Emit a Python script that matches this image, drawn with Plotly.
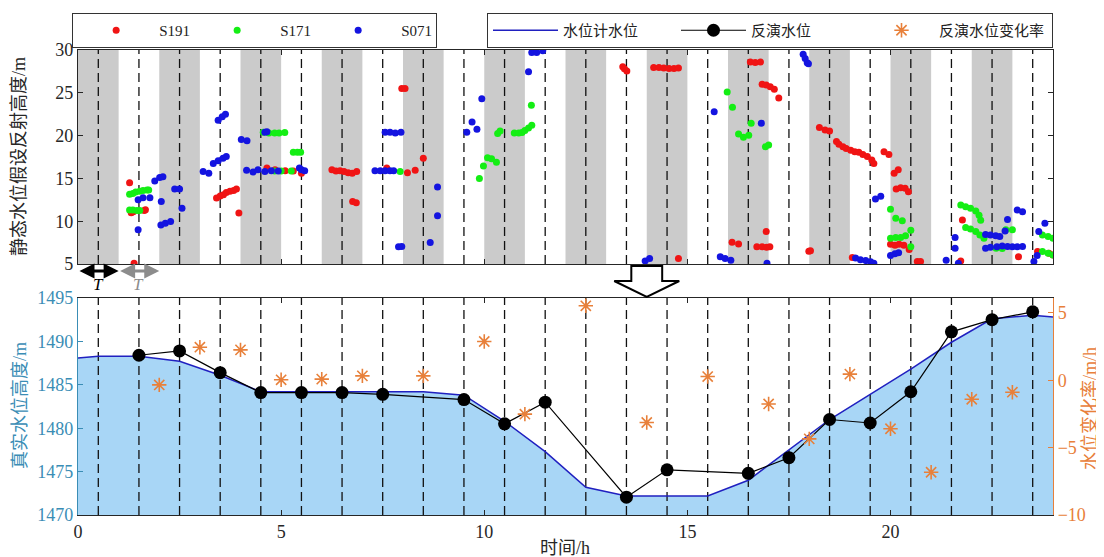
import numpy as np
import plotly.graph_objects as go

# ---------------- data: top panel (static reflector height, m) ----------------
s191_t = [1.27, 1.31, 1.36, 1.38, 1.63, 1.66,
          3.41, 3.50, 3.58, 3.65, 3.74, 3.83, 3.90, 3.96,
          4.65, 4.85, 5.10, 5.30, 5.50,
          6.25, 6.35, 6.45, 6.55, 6.65, 6.75, 6.86, 6.76, 6.85,
          7.60, 7.97, 8.05, 8.11, 8.30, 8.50,
          13.41, 13.45, 13.51, 14.17, 14.30, 14.42, 14.55, 14.67, 14.78, 14.78,
          16.10, 16.26, 16.55, 16.67, 16.80,
          16.84, 16.94, 17.04, 17.14, 17.25,
          16.71, 16.84, 16.94, 16.95, 17.03, 17.99, 18.03,
          18.25, 18.39, 18.50,
          18.67, 18.73, 18.83, 18.91, 19.02, 19.12, 19.22, 19.32, 19.43, 19.54, 19.59,
          19.06, 19.84, 19.96, 20.09, 20.19,
          20.14, 20.25, 20.36, 20.44,
          20.00, 20.11, 20.21, 20.33, 20.46, 20.66, 20.74,
          21.73, 21.77, 23.15, 23.62, 23.90, 24.00]
s191_h = [14.5, 11.0, 11.1, 5.1, 11.25, 11.35,
          12.7, 12.95, 13.1, 13.35, 13.5, 13.6, 13.75, 10.95,
          16.2, 16.0, 15.9, 15.85, 15.6,
          16.0, 15.85, 15.9, 15.8, 15.65, 15.6, 15.8, 12.3, 12.15,
          16.2, 25.5, 25.5, 15.65, 15.95, 17.35,
          28.05, 27.8, 27.55, 27.95, 27.95, 27.9, 27.85, 27.85, 27.9, 5.65,
          7.55, 7.35, 28.6, 28.55, 28.6,
          26.0, 25.9, 25.7, 25.4, 24.4,
          7.0, 7.0, 8.8, 6.95, 7.0, 6.5, 6.55,
          20.95, 20.65, 20.55,
          19.3, 19.0, 18.7, 18.5, 18.3, 18.1, 18.05, 17.8, 17.55, 17.15, 16.75,
          5.75, 18.1, 17.8, 15.6, 16.0,
          13.75, 13.9, 13.85, 13.45,
          7.3, 7.2, 7.3, 7.2, 6.7, 5.3, 5.3,
          5.35, 10.15, 5.85, 6.45, 6.25, 6.05]

s171_t = [1.27, 1.35, 1.42, 1.52, 1.60, 1.70, 1.74,
          1.27, 1.35, 1.45, 1.52,
          4.56, 4.70, 4.84, 4.95, 5.09, 5.30, 5.40, 5.48,
          4.84, 5.00, 5.25, 7.93,
          9.88, 9.98, 10.08, 10.18, 10.30, 10.33, 10.39,
          10.74, 10.85, 10.93, 11.00, 11.09, 11.17, 11.16,
          15.98, 16.11, 16.26, 16.38, 16.51, 16.57, 16.92, 17.00,
          20.00, 20.13, 20.29,
          20.00, 20.13, 20.25, 20.37, 20.50, 20.50,
          21.73, 21.85, 21.97, 22.10, 22.18, 22.22,
          21.85, 21.97, 22.10, 22.20, 22.30,
          22.84, 23.00, 22.60, 22.75,
          23.74, 23.88, 24.00, 23.74, 23.88, 24.00]
s171_h = [13.15, 13.25, 13.4, 13.5, 13.6, 13.65, 13.65,
          11.3, 11.3, 11.25, 11.25,
          20.4, 20.3, 20.3, 20.3, 20.35, 18.05, 18.05, 18.05,
          15.85, 15.85, 15.85, 15.8,
          15.0, 16.45, 17.4, 17.3, 16.9, 20.25, 20.55,
          20.3, 20.3, 20.35, 20.6, 20.9, 21.2, 23.55,
          25.1, 23.3, 20.2, 19.8, 20.05, 21.45, 18.7, 18.9,
          11.4, 10.35, 10.05,
          8.0, 8.1, 8.1, 8.3, 8.95, 7.0,
          11.9, 11.7, 11.5, 11.2, 10.7, 10.1,
          9.25, 9.1, 8.8, 8.4, 8.0,
          9.0, 9.0, 6.85, 6.8,
          8.4, 8.2, 8.0, 6.45, 6.25, 6.05]

s071_t = [1.48, 1.48, 1.60, 1.77, 1.89, 2.01, 2.09, 2.05,
          2.04, 2.15, 2.28, 2.38, 2.50, 2.56,
          3.08, 3.22, 3.33, 3.45, 3.57, 3.65, 3.45, 3.55, 3.63,
          4.02, 4.16, 4.15, 4.31, 4.43, 4.60, 4.76, 4.93, 4.60, 4.65,
          5.45, 5.50, 5.58,
          7.31, 7.44, 7.56, 7.68, 7.77, 7.56, 7.68, 7.81, 7.95,
          7.89, 7.97, 8.67, 8.85, 8.85,
          9.57, 9.70, 9.82, 9.94, 11.09, 11.17, 11.29, 11.44,
          13.96, 14.07, 15.66, 15.81, 15.93, 16.07, 16.82, 16.96,
          17.85, 17.90, 17.95, 17.98,
          19.14, 19.26, 19.39, 19.51, 19.59, 19.63, 19.76,
          20.00, 20.11, 20.20,
          21.37, 21.59, 21.59, 21.67,
          22.34, 22.46, 22.59, 22.69, 22.82, 22.88, 23.12, 23.25,
          22.34, 22.46, 22.62, 22.75, 22.88, 23.00, 23.12, 23.25,
          23.53, 23.61, 23.65, 23.80]
s071_h = [9.0, 12.5, 12.75, 12.75, 14.7, 15.1, 15.2, 12.3,
          9.55, 9.75, 9.95, 13.75, 13.75, 11.5,
          15.8, 15.6, 16.75, 17.05, 17.35, 17.55, 21.8, 22.2, 22.5,
          19.55, 19.4, 15.95, 15.75, 16.0, 15.8, 15.9, 15.85, 20.4, 20.45,
          16.2, 16.0, 15.9,
          15.9, 15.9, 15.9, 15.9, 15.9, 20.4, 20.4, 20.3, 20.4,
          7.0, 7.05, 7.5, 14.0, 10.65,
          20.4, 21.6, 20.75, 24.3, 27.45, 29.7, 29.7, 29.9,
          5.35, 5.65, 22.8, 5.85, 5.65, 5.45, 21.45, 5.1,
          29.5, 29.0, 28.5, 28.4,
          5.7, 5.5, 5.4, 5.25, 5.1, 12.6, 12.9,
          6.0, 6.2, 6.3,
          5.45, 8.1, 6.85, 5.1,
          8.45, 8.4, 8.3, 8.2, 8.85, 10.2, 11.3, 11.1,
          6.85, 6.95, 7.0, 7.1, 7.05, 7.0, 7.0, 7.05,
          5.3, 6.0, 8.8, 9.75]

# ---------------- data: bottom panel ----------------
gauge_t = [0, 0.5, 1.5, 2.5, 3.5, 4.5, 5.5, 6.5, 7.5, 8.5, 9.5, 10.5, 11.5, 12.5,
           13.5, 14.5, 15.5, 16.5, 17.5, 18.5, 19.5, 20.5, 21.5, 22.5, 23.5, 24]
gauge_h = [1488.1, 1488.3, 1488.3, 1487.7, 1486.1, 1484.2, 1484.2, 1484.2, 1484.2,
           1484.2, 1483.8, 1480.8, 1477.3, 1473.2, 1472.2, 1472.2, 1472.2, 1474.0,
           1477.5, 1481.0, 1483.9, 1486.8, 1489.9, 1492.6, 1493.0, 1492.8]

inv_t = [1.5, 2.5, 3.5, 4.5, 5.5, 6.5, 7.5, 9.5, 10.5, 11.5, 13.5, 14.5,
         16.5, 17.5, 18.5, 19.5, 20.5, 21.5, 22.5, 23.5]
inv_h = [1488.4, 1488.9, 1486.4, 1484.1, 1484.1, 1484.1, 1483.9, 1483.3, 1480.5,
         1483.0, 1472.05, 1475.2, 1474.8, 1476.6, 1481.0, 1480.6, 1484.2, 1491.1,
         1492.5, 1493.4]

rate_t = [2, 3, 4, 5, 6, 7, 8.5, 10, 11, 12.5, 14, 15.5, 17, 18, 19, 20, 21, 22, 23]
rate_v = [-0.35, 2.45, 2.25, 0.03, 0.08, 0.32, 0.32, 2.87, -2.52, 5.52, -3.14,
          0.27, -1.76, -4.35, 0.45, -3.6, -6.83, -1.41, -0.89]

x_ticks = [0, 5, 10, 15, 20]
top_y_ticks = [5, 10, 15, 20, 25, 30]
left_y_ticks = [1470, 1475, 1480, 1485, 1490, 1495]
right_y_ticks = [-10, -5, 0, 5]

# ---------------- styling ----------------
FONT = "Liberation Serif, 'Noto Sans CJK SC', serif"
AX = "#262626"
TEAL = "#3a8db5"
ORANGE = "#e8803a"
RED, GREEN, BLUE = "#f01414", "#14ee14", "#1414e0"
GRAY = "#cbcbcb"

fig = go.Figure()

# dashed half-hour guide lines
half = np.arange(0.5, 24, 1.0)
dx, dy_top, dy_bot = [], [], []
for h in half:
    dx += [h, h, None]
    dy_top += [5, 30, None]
    dy_bot += [1470, 1495, None]
fig.add_trace(go.Scatter(x=dx, y=dy_top, mode="lines", xaxis="x", yaxis="y",
                         line=dict(color="#111111", width=1.3, dash="9px,5px"),
                         showlegend=False, hoverinfo="skip"))

for name, t, h, c in [("S191", s191_t, s191_h, RED), ("S171", s171_t, s171_h, GREEN),
                      ("S071", s071_t, s071_h, BLUE)]:
    fig.add_trace(go.Scatter(x=t, y=h, mode="markers", name=name, xaxis="x", yaxis="y",
                             marker=dict(color=c, size=7), legend="legend"))

# bottom panel: filled area under the gauge level, then the gauge line itself
fig.add_trace(go.Scatter(x=gauge_t, y=gauge_h, mode="lines", xaxis="x2", yaxis="y2",
                         fill="tozeroy", fillcolor="#a8d6f6", line=dict(width=0),
                         showlegend=False, hoverinfo="skip"))
fig.add_trace(go.Scatter(x=dx, y=dy_bot, mode="lines", xaxis="x2", yaxis="y2",
                         line=dict(color="#111111", width=1.3, dash="9px,5px"),
                         showlegend=False, hoverinfo="skip"))
fig.add_trace(go.Scatter(x=gauge_t, y=gauge_h, mode="lines", name="水位计水位",
                         xaxis="x2", yaxis="y2",
                         line=dict(color="#2020c0", width=1.5), legend="legend2"))
fig.add_trace(go.Scatter(x=inv_t, y=inv_h, mode="lines+markers", name="反演水位",
                         xaxis="x2", yaxis="y2",
                         line=dict(color="black", width=1.2),
                         marker=dict(color="black", size=13), legend="legend2"))
fig.add_trace(go.Scatter(x=rate_t, y=rate_v, mode="markers", name="反演水位变化率",
                         xaxis="x2", yaxis="y3",
                         marker=dict(symbol="asterisk-open", size=12, color=ORANGE,
                                     line=dict(color=ORANGE, width=1.6)),
                         legend="legend2"))

# gray alternating bands in the top panel
shapes = []
for k in range(12):
    shapes.append(dict(type="rect", xref="x", yref="y domain", x0=2 * k, x1=2 * k + 1,
                       y0=0, y1=1, fillcolor=GRAY, line=dict(width=0), layer="below"))

# window-pixel -> paper y (plot area spans window y 50..515)
def py(p):
    return (515 - p) / 465.0

# hollow down arrow between panels
shapes.append(dict(type="path", xref="x", yref="paper",
                   path=f"M 13.62,{py(266)} L 14.38,{py(266)} L 14.38,{py(281)} L 14.8,{py(281)} "
                        f"L 14.0,{py(297)} L 13.2,{py(281)} L 13.62,{py(281)} Z",
                   fillcolor="white", line=dict(color="black", width=2), layer="above"))

def ann_text(text, x, y, color, angle=0, size=18):
    return dict(text=text, xref="paper", yref="paper", x=x, y=y, textangle=angle,
                xanchor="center", yanchor="middle", showarrow=False,
                font=dict(size=size, color=color, family=FONT))

annotations = [
    ann_text("静态水位假设反射高度/m", (19 - 78) / 975, py(157), AX, -90),
    ann_text("真实水位高度/m", (20 - 78) / 975, py(406), TEAL, -90),
    ann_text("水位变化率/m/h", (1090 - 78) / 975, py(409), ORANGE, -90),
    ann_text("时间/h", (565 - 78) / 975, py(548), AX),
    # period arrows
    dict(x=1, y=py(271), xref="x", yref="paper", ax=-40.6, ay=0, axref="pixel", ayref="pixel",
         text="", showarrow=True, arrowhead=2, arrowside="end+start", arrowsize=1,
         arrowwidth=3, arrowcolor="black"),
    dict(x=2, y=py(271), xref="x", yref="paper", ax=-40.6, ay=0, axref="pixel", ayref="pixel",
         text="", showarrow=True, arrowhead=2, arrowside="end+start", arrowsize=1,
         arrowwidth=3, arrowcolor="#8c8c8c"),
    dict(text="<i>T</i>", x=0.5, y=py(284), xref="x", yref="paper", showarrow=False,
         xanchor="center", yanchor="middle",
         font=dict(size=17, color="black", family=FONT)),
    dict(text="<i>T</i>", x=1.5, y=py(284), xref="x", yref="paper", showarrow=False,
         xanchor="center", yanchor="middle",
         font=dict(size=17, color="#8c8c8c", family=FONT)),
]

tickfont = dict(size=18, family=FONT, color=AX)
# the page body adds an 8px offset, so the figure is 8px smaller and margins shifted
fig.update_layout(
    width=1096, height=549,
    margin=dict(l=70, r=51, t=42, b=42, autoexpand=False),
    paper_bgcolor="white", plot_bgcolor="white",
    font=dict(family=FONT, size=16, color=AX),
    shapes=shapes, annotations=annotations,
    xaxis=dict(domain=[0, 1], anchor="y", range=[0, 24], tickvals=x_ticks,
               showticklabels=False, ticks="inside", ticklen=5, tickcolor=AX,
               showline=True, linecolor=AX, linewidth=1.2, mirror="ticks",
               showgrid=False, zeroline=False),
    yaxis=dict(domain=[0.5398, 1.0], anchor="x", range=[5, 30], tickvals=top_y_ticks,
               ticks="inside", ticklen=5, tickcolor=AX, tickfont=tickfont,
               showline=True, linecolor=AX, linewidth=1.2, mirror="ticks",
               showgrid=False, zeroline=False),
    xaxis2=dict(domain=[0, 1], anchor="y2", range=[0, 24], tickvals=x_ticks,
                ticks="inside", ticklen=5, tickcolor=AX, tickfont=tickfont,
                showline=True, linecolor=AX, linewidth=1.2, mirror="ticks",
                showgrid=False, zeroline=False),
    yaxis2=dict(domain=[0, 0.4667], anchor="x2", range=[1470, 1495], tickvals=left_y_ticks,
                ticks="inside", ticklen=5, tickcolor=TEAL,
                tickfont=dict(size=18, family=FONT, color=TEAL),
                showline=True, linecolor=TEAL, linewidth=1.2, mirror=False,
                showgrid=False, zeroline=False),
    yaxis3=dict(overlaying="y2", side="right", anchor="x2", range=[-10, 6.1],
                tickvals=right_y_ticks, ticks="inside", ticklen=5, tickcolor=ORANGE,
                tickfont=dict(size=18, family=FONT, color=ORANGE),
                showline=True, linecolor=ORANGE, linewidth=1.2,
                showgrid=False, zeroline=False),
    legend=dict(x=-0.006, y=py(13), xanchor="left", yanchor="top", orientation="h",
                bordercolor="#333333", borderwidth=1, bgcolor="white",
                font=dict(size=15, family=FONT, color="#222222"),
                entrywidth=30, entrywidthmode="pixels", itemwidth=76),
    legend2=dict(x=(487 - 78) / 975, y=py(13), xanchor="left", yanchor="top", orientation="h",
                 bordercolor="#333333", borderwidth=1, bgcolor="white",
                 font=dict(size=15, family=FONT, color="#222222"),
                 entrywidth=108, entrywidthmode="pixels", itemwidth=65),
)

fig.write_html("out.html")
